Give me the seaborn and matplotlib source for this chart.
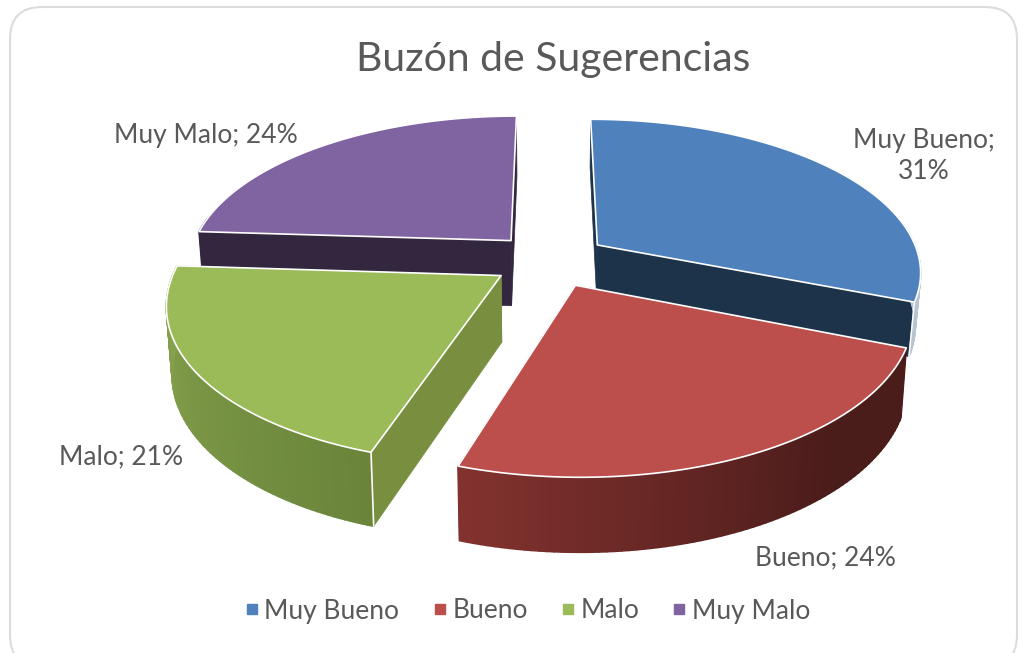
import numpy as np
import matplotlib
matplotlib.use('Agg')
import matplotlib.pyplot as plt
from matplotlib.collections import PolyCollection
from matplotlib.lines import Line2D
from matplotlib.patches import FancyBboxPatch, Polygon
import seaborn as sns

categorias = ['Muy Bueno', 'Bueno', 'Malo', 'Muy Malo']
valores = [31, 24, 21, 24]
titulo = 'Buzón de Sugerencias'

sns.set_theme(style='white')
plt.rcParams['font.family'] = ['Lato', 'DejaVu Sans']

colores = sns.color_palette(['#4f81bd', '#bc4f4b', '#9bbb59', '#8064a2'])
caras = ['#1d3349', '#4e1f1c', '#798f40', '#33263f']
# pared: color al inicio y al final de cada porcion
pared_a = ['#b8c4d2', '#4a1c1a', '#6a853a', '#33263f']
pared_b = ['#b8c4d2', '#84332f', '#8aa650', '#33263f']
gris = '#595959'

# geometria de la tarta en perspectiva (pixeles)
CX, CY, RX, RY, K = 550, 260, 323, 151, 0.165
EXPL = 0.18
ALTOS = [53, 66, 66, 66]


def proyecta(u, v, alto=None):
    s = 1 / (1 - K * v)
    x = RX * u * s
    y = CY + RY * v * s
    if alto is not None:
        return CX + x * 0.985, y + alto * s ** 0.6
    return CX + x, y


def arco(t0, t1, ox, oy, alto=None):
    t = np.linspace(t0, t1, 80)
    x, y = proyecta(ox + np.sin(t), oy - np.cos(t), alto)
    return np.column_stack([x, y])


def dibuja_porcion(ax, i, t0, t1, z):
    mid = (t0 + t1) / 2
    ox, oy = EXPL * np.sin(mid), -EXPL * np.cos(mid)
    arriba = arco(t0, t1, ox, oy)
    abajo = arco(t0, t1, ox, oy, ALTOS[i])
    ap = np.array(proyecta(ox, oy))
    ab = np.array(proyecta(ox, oy, ALTOS[i]))

    # caras de corte
    for k in (0, -1):
        cara = np.array([ap, arriba[k], abajo[k], ab])
        ax.add_patch(Polygon(cara, fc=caras[i], ec=caras[i], lw=0.5, zorder=z))

    # pared exterior con degradado
    a = np.array(matplotlib.colors.to_rgb(pared_a[i]))
    b = np.array(matplotlib.colors.to_rgb(pared_b[i]))
    angs = np.linspace(t0, t1, 80)
    quads, cols = [], []
    for j in range(len(arriba) - 1):
        if -np.cos(angs[j]) < -0.15:
            continue
        quads.append([arriba[j], arriba[j + 1], abajo[j + 1], abajo[j]])
        f = np.clip((j / len(arriba) - 0.3) / 0.7, 0, 1) if i == 1 else j / len(arriba)
        cols.append(a + (b - a) * f)
    if quads:
        ax.add_collection(PolyCollection(quads, facecolors=cols, edgecolors=cols,
                                         linewidths=1.2, zorder=z + 0.1))
    if i == 2:
        ax.plot([arriba[0][0], abajo[0][0]], [arriba[0][1], abajo[0][1]],
                color='white', lw=1.2, zorder=z + 0.15)
    if i == 0:
        ax.plot([arriba[-1][0], abajo[-1][0]], [arriba[-1][1], abajo[-1][1]],
                color='white', lw=1, zorder=z + 0.15)

    # tapa
    tapa = np.vstack([ap, arriba])
    ax.add_patch(Polygon(tapa, fc=colores[i], ec='white', lw=1.2,
                         joinstyle='round', zorder=z + 0.2))


fig = plt.figure(figsize=(10.23, 6.53), dpi=100, facecolor='white')
ax = fig.add_axes([0, 0, 1, 1])
ax.set_xlim(0, 1023)
ax.set_ylim(653, 0)
ax.axis('off')

ax.add_patch(FancyBboxPatch((10, 7), 1007, 660, boxstyle='round,pad=0,rounding_size=32',
                            fc='white', ec='#dcdcdc', lw=1.5, zorder=0.5))

angulos = np.cumsum([0] + valores) / sum(valores) * 2 * np.pi
for z, i in enumerate([0, 3, 2, 1]):
    dibuja_porcion(ax, i, angulos[i], angulos[i + 1], 2 + z)

ax.text(553, 59, titulo, fontsize=29.5, color=gris, ha='center', va='center')

etiquetas = [f'{c}; {v}%' for c, v in zip(categorias, valores)]
ax.text(924, 156, etiquetas[0].replace('; ', ';\n'), fontsize=19, color=gris,
        ha='center', va='center', linespacing=1.3)
ax.text(825, 558, etiquetas[1], fontsize=19, color=gris, ha='center', va='center')
ax.text(121, 457, etiquetas[2], fontsize=19, color=gris, ha='center', va='center')
ax.text(206, 135, etiquetas[3], fontsize=19, color=gris, ha='center', va='center')

marcas = [Line2D([], [], ls='none', marker='s', ms=7.2, color=c, label=n)
          for c, n in zip(colores, categorias)]
ax.legend(handles=marcas, ncol=4, frameon=False, fontsize=19, labelcolor=gris,
          loc='center', bbox_to_anchor=(524.5, 611), bbox_transform=ax.transData,
          handlelength=1, handletextpad=-0.02, columnspacing=1.02)

fig.savefig('out.png', dpi=100)
